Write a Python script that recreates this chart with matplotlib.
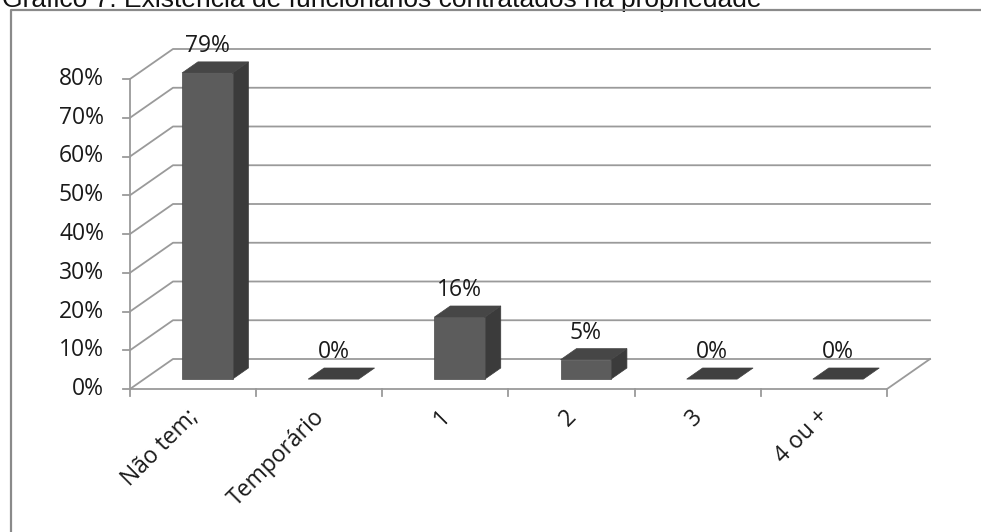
import matplotlib
matplotlib.use("Agg")
import matplotlib.pyplot as plt
from matplotlib.patches import Polygon
from matplotlib.lines import Line2D
from matplotlib.transforms import IdentityTransform
import numpy as np

# Data
categories = ["Não tem;", "Temporário", "1", "2", "3", "4 ou +"]
values = [0.79, 0.00, 0.16, 0.05, 0.00, 0.00]
value_labels = ["79%", "0%", "16%", "5%", "0%", "0%"]
y_ticks = [0.0, 0.1, 0.2, 0.3, 0.4, 0.5, 0.6, 0.7, 0.8]
y_tick_labels = ["0%", "10%", "20%", "30%", "40%", "50%", "60%", "70%", "80%"]
title = "Gráfico 7: Existência de funcionários contratados na propriedade"

W, H, DPI = 981, 532, 100
fig = plt.figure(figsize=(W / DPI, H / DPI), dpi=DPI)
fig.patch.set_facecolor("white")

# Front plane of the pseudo-3D plot
left_px, right_px, top_px, bottom_px = 130, 887, 79, 389
ax = fig.add_axes([left_px / W, (H - bottom_px) / H,
                   (right_px - left_px) / W, (bottom_px - top_px) / H])
ax.set_xlim(0, len(categories))
ax.set_ylim(0, 0.8)
ax.axis("off")

DEPTH = np.array([43.0, 30.0])   # oblique depth vector, pixels
Z0, Z1 = 0.33, 0.70               # bar front/back depth fractions
BAR_HALF = 0.2                    # half bar width, category units
FS = 16.5
FONT = "Open Sans"
TXT = "#1a1a1a"

fig.canvas.draw()
ident = IdentityTransform()


def proj(x, y, z):
    p = ax.transData.transform((x, y))
    return p + z * DEPTH


grid_col = "#9a9a9a"
glw = 1.3
n = len(categories)

# walls: left-side diagonals and back gridlines
for t in y_ticks:
    a, b, c = proj(0, t, 0), proj(0, t, 1), proj(n, t, 1)
    fig.add_artist(Line2D([a[0], b[0], c[0]], [a[1], b[1], c[1]],
                          color=grid_col, lw=glw, transform=ident, zorder=1))
# floor front and right edges
a, b, c = proj(0, 0, 0), proj(n, 0, 0), proj(n, 0, 1)
fig.add_artist(Line2D([a[0], b[0], c[0]], [a[1], b[1], c[1]],
                      color=grid_col, lw=glw, transform=ident, zorder=1))
# value axis
a, b = proj(0, 0, 0), proj(0, 0.8, 0)
fig.add_artist(Line2D([a[0], b[0]], [a[1], b[1]], color=grid_col, lw=glw,
                      transform=ident, zorder=1))
for t, lab in zip(y_ticks, y_tick_labels):
    p = proj(0, t, 0)
    fig.add_artist(Line2D([p[0] - 7, p[0]], [p[1], p[1]], color=grid_col,
                          lw=glw, transform=ident, zorder=1))
    fig.text(p[0] - 26, p[1], lab, transform=ident, ha="right", va="center",
             fontsize=FS, family=FONT, color=TXT)
for k in range(n + 1):
    p = proj(k, 0, 0)
    fig.add_artist(Line2D([p[0], p[0]], [p[1], p[1] - 7], color=grid_col,
                          lw=glw, transform=ident, zorder=1))

front_col, side_col, top_col, flat_col = "#5c5c5c", "#3b3b3b", "#464646", "#404040"

for i, (v, lab) in enumerate(zip(values, value_labels)):
    x0, x1 = i + 0.5 - BAR_HALF, i + 0.5 + BAR_HALF
    top = [proj(x0, v, Z0), proj(x1, v, Z0), proj(x1, v, Z1), proj(x0, v, Z1)]
    if v > 0:
        front = [proj(x0, 0, Z0), proj(x1, 0, Z0), proj(x1, v, Z0), proj(x0, v, Z0)]
        side = [proj(x1, 0, Z0), proj(x1, 0, Z1), proj(x1, v, Z1), proj(x1, v, Z0)]
        fig.add_artist(Polygon(side, closed=True, fc=side_col, ec=side_col,
                               lw=0.5, transform=ident, zorder=3))
        fig.add_artist(Polygon(front, closed=True, fc=front_col, ec="#4a4a4a",
                               lw=0.5, transform=ident, zorder=3))
        fig.add_artist(Polygon(top, closed=True, fc=top_col, ec=top_col,
                               lw=0.5, transform=ident, zorder=3))
    else:
        fig.add_artist(Polygon(top, closed=True, fc=flat_col, ec=flat_col,
                               lw=0.5, transform=ident, zorder=3))
    # value label above the bar
    cx = proj(i + 0.5, v, Z0)[0]
    cy = proj(i + 0.5, v, Z1)[1] + 16
    fig.text(cx, cy, lab, transform=ident, ha="center", va="center",
             fontsize=FS, family=FONT, color=TXT, zorder=4)

# category labels, rotated
for i, cat in enumerate(categories):
    p = proj(i + 0.5, 0, 0)
    fig.text(p[0] + 10, p[1] - 16, cat, transform=ident, ha="right", va="top",
             rotation=45, fontsize=FS, family=FONT, color=TXT)

# chart frame
fig.add_artist(Line2D([11, 11, W + 5], [-5, H - 10, H - 10], color="#8a8a8a",
                      lw=1.6, transform=ident, zorder=5))

# caption above the frame
fig.text(2, H - 7, title, transform=ident, ha="left", va="baseline",
         fontsize=19, family="Liberation Sans", color="#111111")

fig.savefig("out.png", dpi=DPI)
